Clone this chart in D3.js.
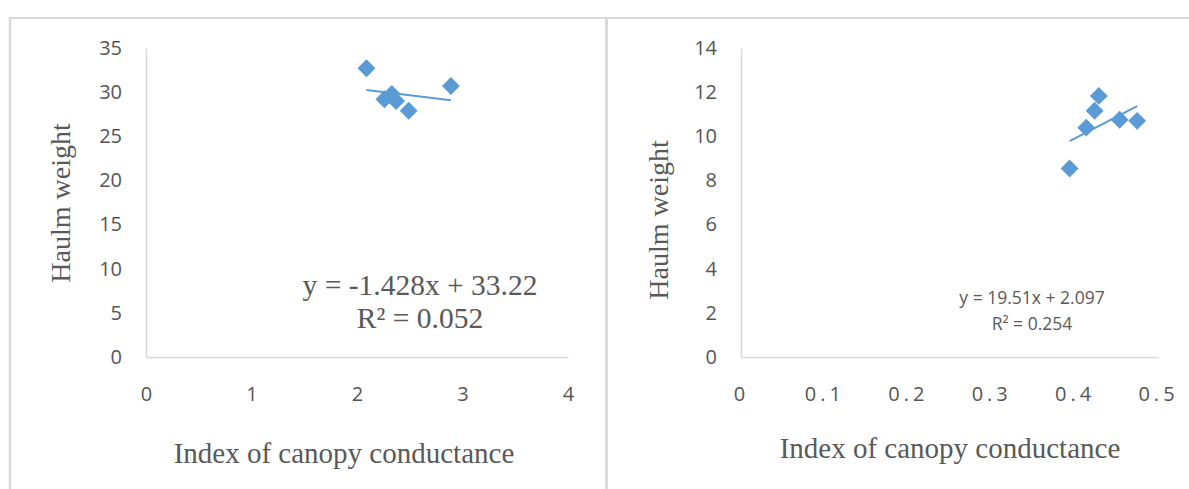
<!DOCTYPE html>
<html>
<head>
<meta charset="utf-8">
<script src="https://cdn.jsdelivr.net/npm/d3@7"></script>
<style>
	body { margin: 0; background: #fff; }
	.tick text { font-family: "Open Sans", sans-serif; fill: #555; }
	.title { font-family: "Liberation Serif", "Times New Roman", serif; fill: #595959; }
</style>
</head>
<body>
<div id="chart-area"></div>
<script>

// DATA

let leftX = [2.09, 2.26, 2.33, 2.37, 2.49, 2.89],
	leftY = [32.7, 29.2, 29.8, 29.0, 27.9, 30.7];
let leftTrend = {slope: -1.428, intercept: 33.22};
let leftXTicks = [0, 1, 2, 3, 4],
	leftYTicks = [0, 5, 10, 15, 20, 25, 30, 35];

let rightX = [0.394, 0.414, 0.424, 0.429, 0.454, 0.475],
	rightY = [8.54, 10.39, 11.16, 11.83, 10.75, 10.7];
let rightTrend = {slope: 19.51, intercept: 2.097};
let rightXTicks = [0, 0.1, 0.2, 0.3, 0.4, 0.5],
	rightYTicks = [0, 2, 4, 6, 8, 10, 12, 14];

let yTitle = "Haulm weight",
	xTitle = "Index of canopy conductance";

// CHART AREA

let width = 1189, height = 489;
let blue = "#5B9BD5", border = "#d9d9d9";

let svg = d3.select("#chart-area").append("svg")
	.attr("width", width)
	.attr("height", height);

// frame lines
svg.append("line").attr("x1", 9).attr("x2", width).attr("y1", 18).attr("y2", 18)
	.attr("stroke", border).attr("stroke-width", 2);
svg.append("line").attr("x1", 10).attr("x2", 10).attr("y1", 17).attr("y2", height)
	.attr("stroke", border).attr("stroke-width", 2.5);
svg.append("line").attr("x1", 606.5).attr("x2", 606.5).attr("y1", 17).attr("y2", height)
	.attr("stroke", border).attr("stroke-width", 3);


function drawPanel(cfg) {

	let xScale = d3.scaleLinear().domain(cfg.xDomain).range(cfg.xRange);
	let yScale = d3.scaleLinear().domain(cfg.yDomain).range([357, 48]);

	let g = svg.append("g");

	// y axis
	let yAxis = d3.axisLeft(yScale).tickValues(cfg.yTicks).tickSize(0).tickPadding(cfg.yPad);
	let yg = g.append("g")
		.attr("transform", "translate(" + cfg.xRange[0] + ",0)")
		.call(yAxis);
	yg.select(".domain").attr("stroke", border).attr("stroke-width", 1.5);
	yg.selectAll("text").style("font-size", "20px");

	// x axis
	let xAxis = d3.axisBottom(xScale).tickValues(cfg.xTicks).tickSize(0).tickPadding(30)
		.tickFormat(d => d === 0 ? "0" : d3.format(cfg.fmt)(d));
	let xg = g.append("g")
		.attr("transform", "translate(0,357)")
		.call(xAxis);
	xg.select(".domain").attr("stroke", border).attr("stroke-width", 1.5);
	xg.selectAll("text").style("font-size", "20px")
		.style("letter-spacing", cfg.spacing + "px");

	// trendline
	let xMin = d3.min(cfg.xs), xMax = d3.max(cfg.xs);
	g.append("line")
		.attr("x1", xScale(xMin)).attr("y1", yScale(cfg.trend.slope * xMin + cfg.trend.intercept))
		.attr("x2", xScale(xMax)).attr("y2", yScale(cfg.trend.slope * xMax + cfg.trend.intercept))
		.attr("stroke", blue).attr("stroke-width", 2);

	// markers
	let diamond = d3.symbol().type(d3.symbolSquare).size(160);
	g.selectAll(".pt")
		.data(cfg.xs.map((x, i) => [x, cfg.ys[i]]))
		.enter()
		.append("path")
		.attr("class", "pt")
		.attr("d", diamond)
		.attr("transform", d => "translate(" + xScale(d[0]) + "," + yScale(d[1]) + ") rotate(45)")
		.attr("fill", blue);

	// axis titles
	g.append("text")
		.attr("class", "title")
		.attr("transform", "translate(" + cfg.yTitlePos[0] + "," + cfg.yTitlePos[1] + ") rotate(-90)")
		.attr("text-anchor", "middle")
		.style("font-size", "28px")
		.text(yTitle);

	g.append("text")
		.attr("class", "title")
		.attr("x", cfg.xTitlePos[0])
		.attr("y", cfg.xTitlePos[1])
		.attr("text-anchor", "middle")
		.style("font-size", "29px")
		.text(xTitle);

	// equation
	let sign = cfg.trend.intercept >= 0 ? " + " : " - ";
	let eq = g.append("text")
		.attr("text-anchor", "middle")
		.style("font-family", cfg.eqFont)
		.style("font-size", cfg.eqSize + "px")
		.attr("fill", "#595959");
	eq.append("tspan")
		.attr("x", cfg.eqPos[0]).attr("y", cfg.eqPos[1])
		.text("y = " + cfg.trend.slope + "x" + sign + Math.abs(cfg.trend.intercept));
	eq.append("tspan")
		.attr("x", cfg.eqPos[0]).attr("y", cfg.eqPos[1] + cfg.eqGap)
		.text("R\u00B2 = " + cfg.r2);
}

drawPanel({
	xs: leftX, ys: leftY, trend: leftTrend, r2: "0.052",
	xDomain: [0, 4], xRange: [146, 568], yDomain: [0, 35],
	xTicks: leftXTicks, yTicks: leftYTicks, fmt: "d", spacing: 0, yPad: 24,
	yTitlePos: [70, 203], xTitlePos: [344, 463],
	eqFont: "'Liberation Serif', 'Times New Roman', serif", eqSize: 29.5,
	eqPos: [420, 295], eqGap: 33
});

drawPanel({
	xs: rightX, ys: rightY, trend: rightTrend, r2: "0.254",
	xDomain: [0, 0.5], xRange: [741, 1158], yDomain: [0, 14],
	xTicks: rightXTicks, yTicks: rightYTicks, fmt: ".1f", spacing: 4, yPad: 24,
	yTitlePos: [668, 220], xTitlePos: [950, 458],
	eqFont: "'Open Sans', sans-serif", eqSize: 17.5,
	eqPos: [1032, 304], eqGap: 26
});

</script>
</body>
</html>
